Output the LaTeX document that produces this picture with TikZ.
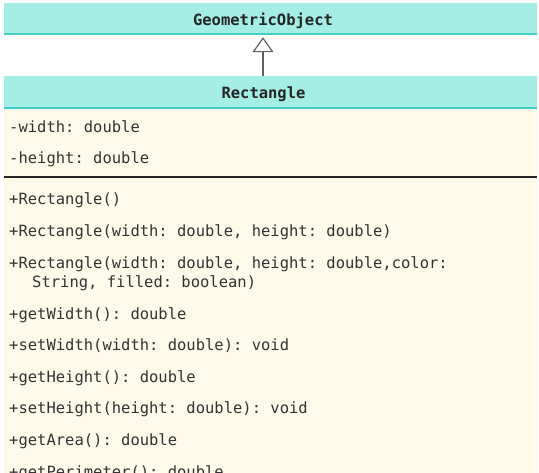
\documentclass[tikz,border=0pt]{standalone}
\usepackage{fontspec}
\setmonofont{DejaVu Sans Mono}
\usetikzlibrary{arrows.meta}
\definecolor{hdrfill}{HTML}{A4EEE5}
\definecolor{hdrline}{HTML}{3FCFC5}
\definecolor{bodyfill}{HTML}{FDFAEA}
\definecolor{txt}{HTML}{333333}
\definecolor{arrowgray}{HTML}{606060}
\tikzset{
  hdr/.style={fill=hdrfill, draw=none, minimum width=533pt, minimum height=32pt,
    inner sep=0pt},
  hdrtext/.style={anchor=base, inner sep=0pt,
    font=\ttfamily\bfseries\fontsize{15.5pt}{18pt}\selectfont, text=black!85},
  hdrrule/.style={draw=hdrline, line width=2.2pt},
  bodybox/.style={fill=bodyfill, draw=none, inner sep=0pt, anchor=north west,
    minimum width=533pt, minimum height=380pt},
  member/.style={anchor=base west, inner sep=0pt,
    font=\ttfamily\fontsize{15.5pt}{18pt}\selectfont, text=txt},
  seprule/.style={draw=black!85, line width=1.3pt},
  inherit/.style={draw=arrowgray, line width=1.4pt,
    -{Triangle[open, length=15pt, width=21pt, line width=1.2pt]}, shorten >=2pt}
}
\begin{document}
\begin{tikzpicture}[x=1pt,y=-1pt]
\clip (0,0) rectangle (539,472);
\fill[white] (0,0) rectangle (539,472);
% GeometricObject
\node[hdr] (geo) at (270.5,19) {};
\node[hdrtext] (geotext) at (263,25) {GeometricObject};
\draw[hdrrule] ([yshift=1.1pt]geo.south west) -- ([yshift=1.1pt]geo.south east);
% Rectangle header
\node[hdr, minimum height=33pt] (rect) at (270.5,92.5) {};
\node[hdrtext] (recttext) at (263.5,98) {Rectangle};
% body
\node[bodybox] (body) at (4,109) {};
\draw[hdrrule] ([yshift=1.1pt]rect.south west) -- ([yshift=1.1pt]rect.south east);
% inheritance arrow
\draw[inherit] (rect.north -| 263,0) -- (geo.south -| 263,0);
% attributes
\node[member] (a1) at (9,132) {-width: double};
\node[member] (a2) at (9,163) {-height: double};
\draw[seprule] (body.west |- 0,177) -- (body.east |- 0,177);
% methods
\node[member] (m1) at (9,204) {+Rectangle()};
\node[member] (m2) at (9,236) {+Rectangle(width: double, height: double)};
\node[member] (m3) at (9,268) {+Rectangle(width: double, height: double,color:};
\node[member] (m3b) at (32,287) {String, filled: boolean)};
\node[member] (m4) at (9,319) {+getWidth(): double};
\node[member] (m5) at (9,350) {+setWidth(width: double): void};
\node[member] (m6) at (9,382) {+getHeight(): double};
\node[member] (m7) at (9,413) {+setHeight(height: double): void};
\node[member] (m8) at (9,445) {+getArea(): double};
\node[member] (m9) at (9,477) {+getPerimeter(): double};
\end{tikzpicture}
\end{document}
